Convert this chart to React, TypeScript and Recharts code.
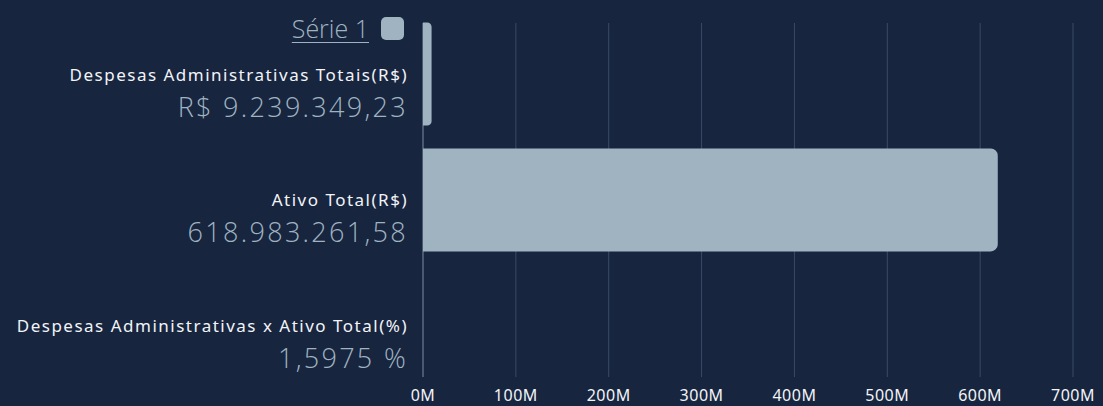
import React from 'react';
import { BarChart, Bar, XAxis, YAxis, CartesianGrid } from 'recharts';

const categories = [
  'Despesas Administrativas Totais(R$)',
  'Ativo Total(R$)',
  'Despesas Administrativas x Ativo Total(%)',
];
const values = [9239349.23, 618983261.58, 1.5975];
const valueLabels = ['R$ 9.239.349,23', '618.983.261,58', '1,5975 %'];
const xTicks = [0, 100000000, 200000000, 300000000, 400000000, 500000000, 600000000, 700000000];
const seriesName = 'Série 1';

const BG = '#17253f';
const BAR = '#9fb3c0';
const GRID = '#3b4b66';
const ZERO = '#7f8ea3';
const FONT = "'Noto Sans', sans-serif";

const data = categories.map((name, i) => ({ name, value: values[i], label: valueLabels[i] }));

function CategoryTick(props: any) {
  const { x, y, payload, index } = props;
  return (
    <g>
      <text
        x={x}
        y={y}
        dy={6}
        textAnchor="end"
        fill="#f2f4f7"
        fontSize={17}
        letterSpacing={1.5}
        fontFamily={FONT}
      >
        {payload.value}
      </text>
      <text
        x={x}
        y={y + 33}
        dy={9}
        textAnchor="end"
        fill={BAR}
        fontSize={27}
        fontWeight={300}
        letterSpacing={2.3}
        fontFamily="'Open Sans', sans-serif"
      >
        {valueLabels[index]}
      </text>
    </g>
  );
}

function GridLine(props: any) {
  const { x1, x2, index } = props;
  return <line x1={x1} x2={x2} y1={23} y2={377} stroke={index === 0 ? ZERO : GRID} strokeWidth={1} />;
}

export default function App() {
  return (
    <div style={{ position: 'fixed', left: 0, top: 0, width: 1103, height: 406, background: BG }}>
      <BarChart
        width={1103}
        height={406}
        data={data}
        layout="vertical"
        margin={{ top: 11.6, right: 30, bottom: 0, left: 0 }}
      >
        <CartesianGrid horizontal={false} vertical={GridLine as any} />
        <XAxis
          type="number"
          domain={[0, 700000000]}
          ticks={xTicks}
          tickFormatter={(v: number) => `${v / 1000000}M`}
          axisLine={false}
          tickLine={false}
          tickSize={0}
          tickMargin={1}
          height={17}
          tick={{ fill: '#f2f4f7', fontSize: 16, fontFamily: FONT, letterSpacing: 0.5 }}
          interval={0}
        />
        <YAxis
          type="category"
          dataKey="name"
          width={423}
          axisLine={false}
          tickLine={false}
          tickSize={0}
          tickMargin={15}
          tick={<CategoryTick />}
          interval={0}
        />
        <Bar dataKey="value" fill={BAR} barSize={103} radius={[0, 7, 7, 0]} isAnimationActive={false} />
      </BarChart>
      <div
        style={{
          position: 'absolute',
          top: 11,
          right: 1103 - 404,
          display: 'flex',
          alignItems: 'center',
          gap: 12,
          fontFamily: "'Open Sans', sans-serif",
          fontWeight: 300,
          fontSize: 25,
          color: BAR,
        }}
      >
        <span style={{ textDecoration: 'underline', textUnderlineOffset: 4, textDecorationThickness: 1 }}>
          {seriesName}
        </span>
        <span style={{ width: 23, height: 23, borderRadius: 5, background: BAR, display: 'inline-block' }} />
      </div>
    </div>
  );
}
